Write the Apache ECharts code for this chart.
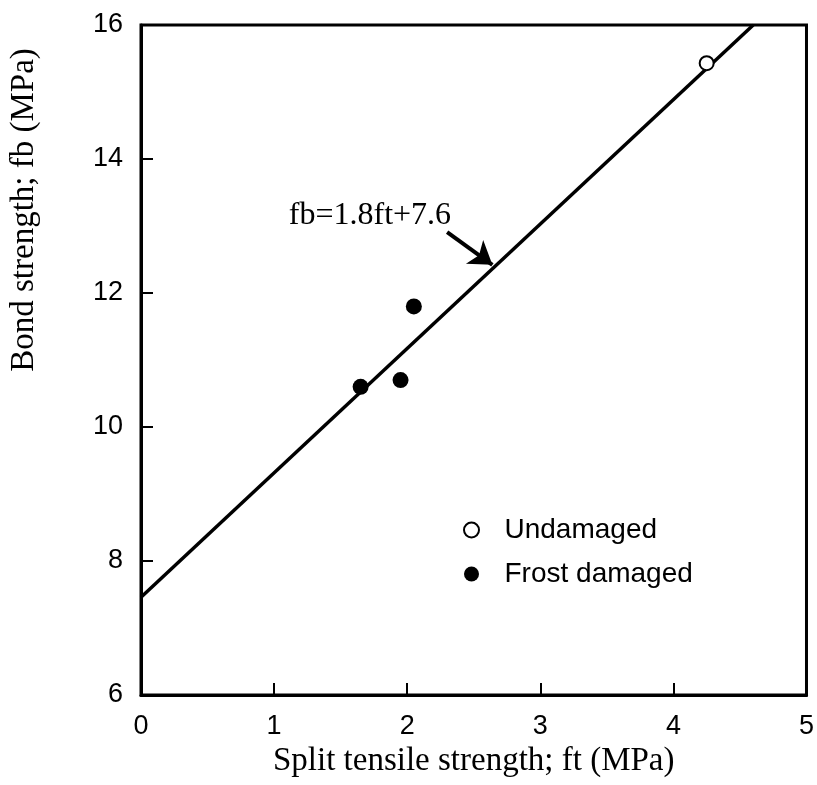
<!DOCTYPE html>
<html><head><meta charset="utf-8">
<script src="https://cdn.jsdelivr.net/npm/echarts@6/dist/echarts.min.js"></script>
<style>html,body{margin:0;padding:0;background:#fff}#c{width:817px;height:785px}</style>
</head><body><div id="c"></div>
<script>
// Data
const undamagedFt = [4.25];
const undamagedFb = [15.43];
const frostFt = [1.65, 1.95, 2.05];
const frostFb = [10.6, 10.7, 11.8];
const fitFt = [0, 4.6];
const fitFb = [7.46, 16.0];
const arrowFrom = [2.30, 12.91];
const arrowTo = [2.64, 12.42];
const fitLabel = 'fb=1.8ft+7.6';
const fitLabelAt = [1.72, 13.16];
const seriesNames = ['Undamaged', 'Frost damaged'];
const xTitle = 'Split tensile strength; ft (MPa)';
const yTitle = 'Bond strength; fb (MPa)';

const SERIF = '"Liberation Serif", "Times New Roman", serif';
const SANS = '"Liberation Sans", Arial, sans-serif';
const zip = (a, b) => a.map((v, i) => [v, b[i]]);

const chart = echarts.init(document.getElementById('c'), null, {renderer: 'canvas'});
chart.setOption({
  animation: false,
  backgroundColor: '#fff',
  grid: {left: 141, top: 25, right: 5, bottom: 90, show: true, borderColor: '#000', borderWidth: 3},
  legend: {
    data: seriesNames,
    orient: 'vertical',
    left: 458, top: 511,
    itemGap: 16, itemWidth: 16, itemHeight: 15,
    textStyle: {fontFamily: SANS, fontSize: 28, color: '#000', padding: [0, 0, 0, 20]},
    selectedMode: false
  },
  xAxis: {
    type: 'value', min: 0, max: 5, interval: 1,
    axisLine: {lineStyle: {color: '#000', width: 3}},
    axisTick: {inside: true, length: 12, lineStyle: {color: '#000', width: 2}},
    axisLabel: {fontFamily: SANS, fontSize: 27, color: '#000', margin: 18},
    splitLine: {show: false},
    name: xTitle, nameLocation: 'middle', nameGap: 44,
    nameTextStyle: {fontFamily: SERIF, fontSize: 33, color: '#000'}
  },
  yAxis: {
    type: 'value', min: 6, max: 16, interval: 2,
    axisLine: {lineStyle: {color: '#000', width: 3}},
    axisTick: {inside: true, length: 12, lineStyle: {color: '#000', width: 2}},
    axisLabel: {fontFamily: SANS, fontSize: 27, color: '#000', margin: 18},
    splitLine: {show: false},
    name: yTitle, nameLocation: 'middle', nameGap: 100, nameRotate: 90,
    nameTextStyle: {fontFamily: SERIF, fontSize: 33, color: '#000', padding: [0, 0, 0, 300]}
  },
  series: [
    {
      type: 'line', name: 'fit', data: zip(fitFt, fitFb), symbol: 'none',
      lineStyle: {color: '#000', width: 3.5}, z: 2, silent: true,
      markLine: {
        silent: true, symbol: ['none', 'arrow'], symbolSize: 22,
        lineStyle: {color: '#000', width: 4, type: 'solid'},
        itemStyle: {color: '#000'},
        label: {show: false},
        data: [[{coord: arrowFrom}, {coord: arrowTo}]]
      },
      markPoint: {
        silent: true, symbol: 'circle', symbolSize: 0,
        label: {show: true, position: 'inside', formatter: fitLabel, fontFamily: SERIF, fontSize: 32, color: '#000'},
        data: [{coord: fitLabelAt}]
      }
    },
    {
      type: 'scatter', name: seriesNames[0], data: zip(undamagedFt, undamagedFb),
      symbol: 'emptyCircle', symbolSize: 14,
      itemStyle: {color: '#000', borderColor: '#000', borderWidth: 3, opacity: 1}, z: 5
    },
    {
      type: 'scatter', name: seriesNames[1], data: zip(frostFt, frostFb),
      symbol: 'circle', symbolSize: 16,
      itemStyle: {color: '#000', opacity: 1}, z: 5
    }
  ]
});
</script></body></html>
